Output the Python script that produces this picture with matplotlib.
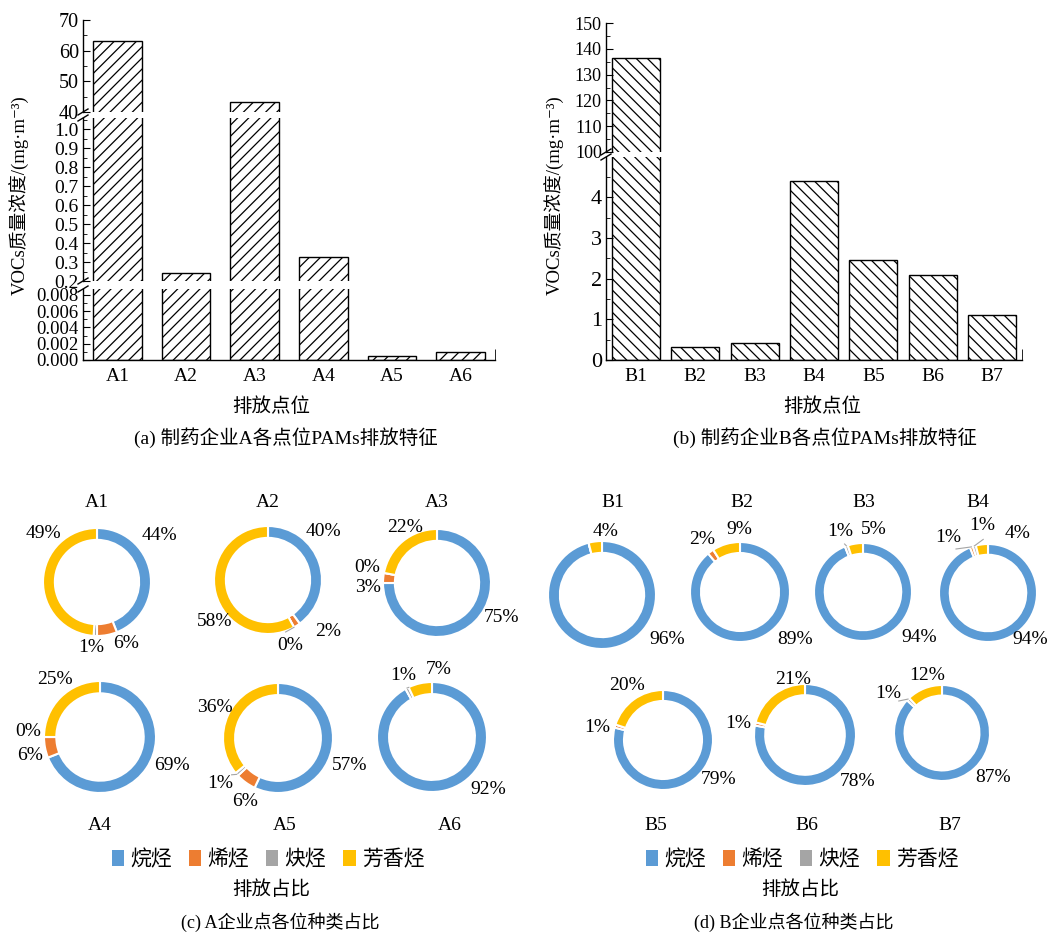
import numpy as np
import matplotlib.pyplot as plt
from matplotlib.lines import Line2D
from matplotlib.patches import Patch

plt.rcParams['font.family'] = ['Liberation Serif', 'Noto Sans CJK SC', 'DejaVu Serif']
plt.rcParams['hatch.linewidth'] = 0.9
plt.rcParams['axes.linewidth'] = 1.0

W, H = 1050, 934

# VOCs concentration per emission point (mg/m3)
sites_a = ['A1', 'A2', 'A3', 'A4', 'A5', 'A6']
conc_a = [63.0, 0.24, 43.3, 0.326, 0.0005, 0.001]
sites_b = ['B1', 'B2', 'B3', 'B4', 'B5', 'B6', 'B7']
conc_b = [136.5, 0.31, 0.43, 4.41, 2.45, 2.09, 1.10]

# species share per emission point (%), order: alkane, alkene, alkyne, aromatic
species = ['烷烃', '烯烃', '炔烃', '芳香烃']
colors = ['#5B9BD5', '#ED7D31', '#A5A5A5', '#FFC000']
share_a = {
    'A1': [44, 6, 1, 49],
    'A2': [40, 2, 0, 58],
    'A3': [75, 3, 0, 22],
    'A4': [69, 6, 0, 25],
    'A5': [57, 6, 1, 36],
    'A6': [92, 0, 1, 7],
}
share_b = {
    'B1': [96, 0, 0, 4],
    'B2': [89, 2, 0, 9],
    'B3': [94, 0, 1, 5],
    'B4': [94, 1, 1, 4],
    'B5': [79, 1, 0, 20],
    'B6': [78, 1, 0, 21],
    'B7': [87, 0, 1, 12],
}

# donut layout: centre x, centre y, radius, name position (pixels)
donut_layout = {
    'A1': (97, 582, 54, 503), 'A2': (268, 580, 54, 503), 'A3': (437, 583, 54, 503),
    'A4': (100, 737, 56, 826), 'A5': (278, 738, 55, 826), 'A6': (432, 737, 55, 826),
    'B1': (602, 595, 54, 503), 'B2': (740, 592, 50, 503), 'B3': (863, 592, 49, 503),
    'B4': (988, 593, 49, 503), 'B5': (663, 740, 50, 826), 'B6': (805, 735, 51, 826),
    'B7': (942, 733, 48, 826),
}
name_x = {'A1': 97, 'A2': 268, 'A3': 437, 'A4': 100, 'A5': 285, 'A6': 450,
          'B1': 613, 'B2': 742, 'B3': 864, 'B4': 978, 'B5': 656, 'B6': 807, 'B7': 950}

# percentage label offsets from the donut centre: (species index, dx, dy)
label_offsets = {
    'A1': [(0, 62, -47), (1, 29, 61), (2, -6, 66), (3, -54, -49)],
    'A2': [(0, 55, -48), (1, 60, 51), (2, 22, 65), (3, -53, 42)],
    'A3': [(0, 65, 34), (1, -69, 5), (2, -70, -15), (3, -32, -56)],
    'A4': [(0, 72, 28), (1, -70, 18), (2, -72, -5), (3, -45, -57)],
    'A5': [(0, 72, 27), (1, -33, 64), (2, -58, 46), (3, -63, -31)],
    'A6': [(0, 56, 52), (2, -29, -62), (3, 7, -68)],
    'B1': [(0, 65, 45), (3, 4, -64)],
    'B2': [(0, 55, 47), (1, -38, -53), (3, -1, -62)],
    'B3': [(0, 56, 45), (2, -23, -60), (3, 11, -62)],
    'B4': [(0, 42, 46), (1, -40, -55), (2, -6, -67), (3, 30, -59)],
    'B5': [(0, 56, 40), (1, -66, -13), (3, -36, -54)],
    'B6': [(0, 53, 47), (1, -67, -12), (3, -12, -56)],
    'B7': [(0, 51, 45), (2, -54, -40), (3, -15, -58)],
}
# small slices whose label is tied to the ring by a leader line
leaders = {'A2': [2], 'A5': [2], 'A6': [2], 'B3': [2], 'B4': [1, 2], 'B7': [2]}

fig = plt.figure(figsize=(W / 100, H / 100), dpi=100)


def px_axes(x0, y0, x1, y1):
    return fig.add_axes([x0 / W, 1 - y1 / H, (x1 - x0) / W, (y1 - y0) / H])


def ftext(x, y, s, size=13, **kw):
    fig.text(x / W, 1 - y / H, s, fontsize=size, ha='center', va='center', **kw)


def break_mark(x, y):
    fig.add_artist(Line2D([(x - 5) / W, (x + 5) / W], [1 - (y + 3) / H, 1 - (y - 3) / H],
                          color='black', lw=1.0))


def broken_bars(names, values, x0, x1, segments, hatch, width):
    n = len(names)
    xs = list(range(n))
    for k, (ytop, ybot, lo, hi, major, minor, fmt, size) in enumerate(segments):
        ax = px_axes(x0, ytop, x1, ybot)
        ax.bar(xs, values, width=width, color='white', edgecolor='black',
               linewidth=1.0, hatch=hatch)
        ax.set_xlim(-0.5, n - 0.5)
        ax.set_ylim(lo, hi)
        ax.set_yticks(major)
        ax.set_yticklabels([fmt.format(v) for v in major], fontsize=size)
        ax.set_yticks(minor, minor=True)
        ax.tick_params(axis='y', which='major', direction='in', length=5, pad=3)
        ax.tick_params(axis='y', which='minor', direction='in', length=3)
        for s in ('top', 'right'):
            ax.spines[s].set_visible(False)
        if k == len(segments) - 1:
            ax.set_xticks(xs)
            ax.set_xticklabels(names, fontsize=14)
            ax.tick_params(axis='x', which='major', length=0, pad=6)
            ax.set_xticks([n - 0.5], minor=True)
            ax.tick_params(axis='x', which='minor', direction='in', length=8)
        else:
            ax.spines['bottom'].set_visible(False)
            ax.tick_params(axis='x', which='both', bottom=False, labelbottom=False)
    for (ytop, ybot, *_), (ntop, *_) in zip(segments[:-1], segments[1:]):
        break_mark(x0, ybot)
        break_mark(x0, ntop)


ylabel = 'VOCs质量浓度/(mg·m⁻³)'

# (a) enterprise A, three-segment broken axis
seg_a = [
    (20, 112, 40, 70, [40, 50, 60, 70], [45, 55, 65], '{:.0f}', 14.5),
    (118, 281, 0.2, 1.06, [0.2, 0.3, 0.4, 0.5, 0.6, 0.7, 0.8, 0.9, 1.0],
     [0.25, 0.35, 0.45, 0.55, 0.65, 0.75, 0.85, 0.95, 1.05], '{:.1f}', 14),
    (289, 360, 0, 0.0087, [0, 0.002, 0.004, 0.006, 0.008],
     [0.001, 0.003, 0.005, 0.007], '{:.3f}', 13.5),
]
broken_bars(sites_a, conc_a, 83, 495, seg_a, '///', 0.71)
ftext(20, 195, ylabel, size=13.5, rotation=90)
ftext(271, 407, '排放点位', size=14)
ftext(286, 438, '(a) 制药企业A各点位PAMs排放特征', size=14)

# (b) enterprise B, two-segment broken axis
seg_b = [
    (23, 152, 100, 150, [100, 110, 120, 130, 140, 150],
     [105, 115, 125, 135, 145], '{:.0f}', 13),
    (157, 360, 0, 4.99, [0, 1, 2, 3, 4], [0.5, 1.5, 2.5, 3.5, 4.5], '{:.0f}', 16),
]
broken_bars(sites_b, conc_b, 606, 1022, seg_b, '\\\\\\', 0.81)
ftext(555, 195, ylabel, size=13.5, rotation=90)
ftext(822, 407, '排放点位', size=14)
ftext(825, 438, '(b) 制药企业B各点位PAMs排放特征', size=14)


def donut(name, vals):
    cx, cy, r, ny = donut_layout[name]
    L = 95
    ax = px_axes(cx - L, cy - L, cx + L, cy + L)
    ax.pie(vals, colors=colors, radius=r, startangle=90, counterclock=False,
           wedgeprops=dict(width=0.22 * r, edgecolor='white', linewidth=1.5))
    ax.set_xlim(-L, L)
    ax.set_ylim(-L, L)
    ax.set_aspect('equal')
    ax.axis('off')
    total = sum(vals)
    starts = np.cumsum([0] + vals[:-1])
    for idx, dx, dy in label_offsets[name]:
        ax.text(dx, -dy, f'{vals[idx]}%', fontsize=14, ha='center', va='center',
                clip_on=False)
        if idx in leaders.get(name, []):
            mid = (starts[idx] + vals[idx] / 2) / total
            ang = np.pi / 2 - 2 * np.pi * mid
            ex, ey = r * np.cos(ang), r * np.sin(ang)
            tx, ty = dx * 0.8, -dy * 0.8
            ax.plot([ex, tx], [ey, ty], color='#A5A5A5', lw=0.8, clip_on=False)
    ftext(name_x[name], ny, name, size=14)


for name, vals in share_a.items():
    donut(name, vals)
for name, vals in share_b.items():
    donut(name, vals)

handles = [Patch(facecolor=c, edgecolor='none') for c in colors]
for cx in (268, 802):
    fig.legend(handles, species, loc='center', bbox_to_anchor=(cx / W, 1 - 860 / H),
               ncol=4, frameon=False, handlelength=0.6, handleheight=0.8,
               handletextpad=0.3, columnspacing=0.8, fontsize=15)
ftext(271, 890, '排放占比', size=14)
ftext(800, 890, '排放占比', size=14)
ftext(280, 922, '(c) A企业点各位种类占比', size=13)
ftext(794, 922, '(d) B企业点各位种类占比', size=13)

fig.savefig('out.png', dpi=100)
